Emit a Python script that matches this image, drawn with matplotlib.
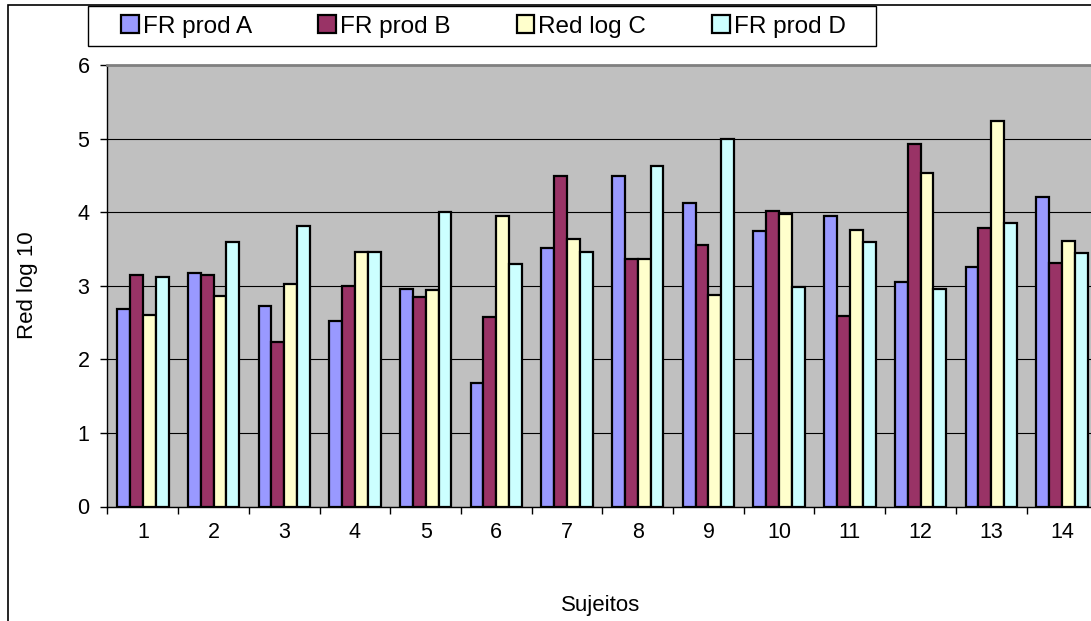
import matplotlib
matplotlib.use('Agg')
import matplotlib.pyplot as plt
from matplotlib.patches import Rectangle, Patch
import numpy as np

plt.rcParams['font.family'] = ['Liberation Sans', 'DejaVu Sans']

subjects = [str(i) for i in range(1, 15)]
series_names = ['FR prod A', 'FR prod B', 'Red log C', 'FR prod D']
fr_prod_a = [2.68, 3.17, 2.73, 2.52, 2.96, 1.68, 3.51, 4.49, 4.12, 3.74, 3.95, 3.05, 3.25, 4.21]
fr_prod_b = [3.15, 3.14, 2.24, 2.99, 2.85, 2.57, 4.49, 3.37, 3.56, 4.01, 2.59, 4.93, 3.78, 3.31]
red_log_c = [2.60, 2.86, 3.02, 3.46, 2.94, 3.95, 3.64, 3.37, 2.87, 3.97, 3.76, 4.53, 5.24, 3.61]
fr_prod_d = [3.12, 3.59, 3.81, 3.46, 4.00, 3.30, 3.46, 4.63, 5.00, 2.98, 3.60, 2.96, 3.85, 3.44]
y_ticks = [0, 1, 2, 3, 4, 5, 6]
colors = ['#9999FF', '#993366', '#FFFFCC', '#CCFFFF']

W, H = 1091, 621
fig = plt.figure(figsize=(W / 100, H / 100), dpi=100)
fig.patch.set_facecolor('white')

ax = fig.add_axes([107.5 / W, 1 - 506.5 / H, 989.8 / W, 441.5 / H])
ax.set_facecolor('#C0C0C0')

x = np.arange(1, len(subjects) + 1)
w = 1 / 5.5
series = [fr_prod_a, fr_prod_b, red_log_c, fr_prod_d]
for i, vals in enumerate(series):
    ax.bar(x + (i - 1.5) * w, vals, w, color=colors[i], edgecolor='black',
           linewidth=1.6, zorder=3)

ax.set_xlim(0.5, len(subjects) + 0.5)
ax.set_ylim(0, 6)
ax.set_yticks(y_ticks)
ax.yaxis.grid(True, color='black', linewidth=0.8, zorder=0)
ax.set_axisbelow(True)

ax.set_xticks(np.arange(0.5, len(subjects) + 1), labels=[''] * (len(subjects) + 1))
ax.set_xticks(x, labels=subjects, minor=True)
ax.tick_params(axis='x', which='major', length=5, width=1, direction='out', color='black')
ax.tick_params(axis='x', which='minor', length=0, pad=11.5, labelsize=15.5)
ax.tick_params(axis='y', length=5, width=1, direction='out', pad=8, labelsize=15.5)

for s in ['left', 'bottom']:
    ax.spines[s].set_color('black')
    ax.spines[s].set_linewidth(1)
for s in ['top', 'right']:
    ax.spines[s].set_color('#808080')
    ax.spines[s].set_linewidth(2)

# chart border
fig.patches.append(Rectangle((8 / W, -0.1), 1.2, 1 - 5 / H + 0.1, transform=fig.transFigure,
                             fill=False, edgecolor='black', linewidth=1.2, zorder=0))
# legend box
fig.patches.append(Rectangle((88 / W, 1 - 46 / H), 788 / W, 40 / H, transform=fig.transFigure,
                             facecolor='white', edgecolor='black', linewidth=1, zorder=1))

handles = [Patch(facecolor=c, edgecolor='black', linewidth=1.6) for c in colors]
fig.legend(handles, series_names, loc='center left', bbox_to_anchor=(121 / W, 1 - 26.5 / H),
           ncol=4, frameon=False, fontsize=17.5, handlelength=0.73, handleheight=0.73,
           handletextpad=0.17, columnspacing=2.72, borderpad=0, borderaxespad=0)

fig.text(27 / W, 1 - 285.5 / H, 'Red log 10', rotation=90, ha='center', va='center', fontsize=16)
fig.text(601 / W, 1 - 611.5 / H, 'Sujeitos', ha='center', va='baseline', fontsize=16)

fig.savefig('out.png', dpi=100)
